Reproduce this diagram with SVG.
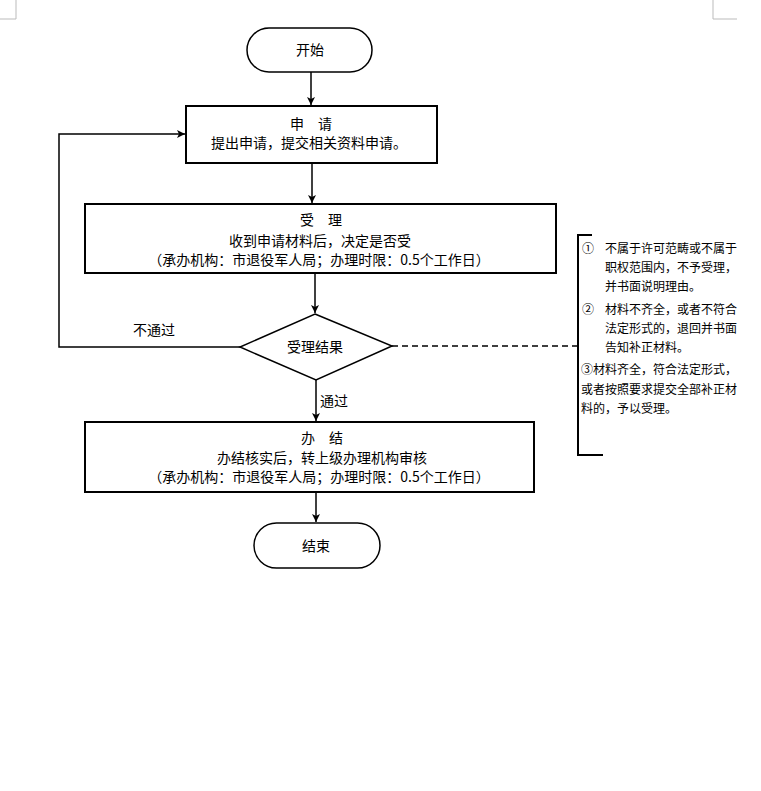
<svg xmlns="http://www.w3.org/2000/svg" width="761" height="791" viewBox="0 0 761 791">
<style>
text{font-family:"Noto Sans CJK SC","Liberation Sans",sans-serif;fill:#000}
.t14{font-size:14px}
.t12{font-size:12px}
.box{fill:#fff;stroke:#000;stroke-width:2}
.term{fill:#fff;stroke:#000;stroke-width:1.5}
.ln{fill:none;stroke:#000;stroke-width:1.5}
.mark{fill:none;stroke:#bbb;stroke-width:1}
</style>
<defs>
<marker id="ah" markerWidth="10" markerHeight="10" refX="8" refY="4" orient="auto" markerUnits="userSpaceOnUse">
<path d="M0,0 L8,4 L0,8 L2,4 Z" fill="#000"/>
</marker>
</defs>
<rect width="761" height="791" fill="#fff"/>
<path class="mark" d="M16,0 V19 H0"/>
<path class="mark" d="M713,0 V19 H737"/>
<g id="connectors">
<line class="ln" x1="311" y1="72" x2="311" y2="105" marker-end="url(#ah)"/>
<line class="ln" x1="312" y1="163" x2="312" y2="203" marker-end="url(#ah)"/>
<line class="ln" x1="315" y1="273" x2="315" y2="313" marker-end="url(#ah)"/>
<line class="ln" x1="316" y1="380" x2="316" y2="421" marker-end="url(#ah)"/>
<line class="ln" x1="316" y1="492" x2="316" y2="522" marker-end="url(#ah)"/>
<path class="ln" d="M240,347 H59 V134 H185" marker-end="url(#ah)"/>
<line x1="392" y1="346" x2="578" y2="346" stroke="#000" stroke-width="1.5" stroke-dasharray="6,4"/>
<text class="t14" x="133" y="335">不通过</text>
<text class="t14" x="320" y="406">通过</text>
</g>
<g id="start">
<rect class="term" x="247" y="28" width="125" height="44" rx="22"/>
<text class="t14" x="310" y="55" text-anchor="middle">开始</text>
</g>
<g id="apply">
<rect class="box" x="186" y="106" width="251" height="57"/>
<text class="t14" x="311" y="129" text-anchor="middle">申　请</text>
<text class="t14" x="309" y="148" text-anchor="middle">提出申请，提交相关资料申请。</text>
</g>
<g id="accept">
<rect class="box" x="85" y="204" width="471" height="69"/>
<text class="t14" x="321" y="225" text-anchor="middle">受　理</text>
<text class="t14" x="320" y="246" text-anchor="middle">收到申请材料后，决定是否受</text>
<text class="t14" x="319" y="265" text-anchor="middle">（承办机构：市退役军人局；办理时限：0.5个工作日）</text>
</g>
<g id="decision">
<polygon fill="#fff" stroke="#000" stroke-width="1.5" points="315,314 392,346 316,380 240,347"/>
<text class="t14" x="315" y="352" text-anchor="middle">受理结果</text>
</g>
<g id="finish">
<rect class="box" x="85" y="422" width="449" height="70"/>
<text class="t14" x="322" y="443" text-anchor="middle">办　结</text>
<text class="t14" x="322" y="463" text-anchor="middle">办结核实后，转上级办理机构审核</text>
<text class="t14" x="319" y="482" text-anchor="middle">（承办机构：市退役军人局；办理时限：0.5个工作日）</text>
</g>
<g id="end">
<rect class="term" x="254" y="523" width="126" height="45" rx="22.5"/>
<text class="t14" x="316" y="551" text-anchor="middle">结束</text>
</g>
<g id="note">
<path fill="none" stroke="#000" stroke-width="2" d="M592,235 H578 V455 H603"/>
<text class="t12" x="582" y="253">①</text>
<text class="t12" x="605" y="253">不属于许可范畴或不属于</text>
<text class="t12" x="605" y="272">职权范围内，不予受理，</text>
<text class="t12" x="605" y="291">并书面说明理由。</text>
<text class="t12" x="582" y="314">②</text>
<text class="t12" x="605" y="314">材料不齐全，或者不符合</text>
<text class="t12" x="605" y="333">法定形式的，退回并书面</text>
<text class="t12" x="605" y="352">告知补正材料。</text>
<text class="t12" x="581" y="374">③材料齐全，符合法定形式，</text>
<text class="t12" x="581" y="394">或者按照要求提交全部补正材</text>
<text class="t12" x="581" y="413">料的，予以受理。</text>
</g>
</svg>
